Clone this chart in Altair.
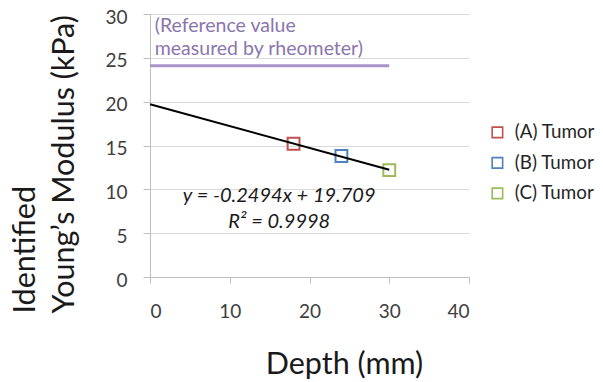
import altair as alt
import pandas as pd

# Data
tumors = ["(A) Tumor", "(B) Tumor", "(C) Tumor"]
depth = [18.0, 24.0, 30.0]
modulus = [15.2, 13.8, 12.2]
colors = ["#c0504d", "#4f81bd", "#9bbb59"]

slope = -0.2494
intercept = 19.709
trend_x = [0.0, 30.0]

ref_value = 24.1
ref_x = [0.0, 30.0]

eq_text = "y = -0.2494x + 19.709\nR² = 0.9998"
ref_text = "(Reference value\nmeasured by rheometer)"

FONT = "Lato"

pts = pd.DataFrame({"Depth": depth, "Modulus": modulus, "Tumor": tumors})
trend = pd.DataFrame({"Depth": trend_x, "Modulus": [slope * x + intercept for x in trend_x]})
ref = pd.DataFrame({"x": [ref_x[0]], "x2": [ref_x[1]], "y": [ref_value]})
eq = pd.DataFrame({"x": [16.2], "y": [8.6], "t": [eq_text]})
reft = pd.DataFrame({"x": [0.6], "y": [27.95], "t": [ref_text]})

xscale = alt.Scale(domain=[0, 40], nice=False)
yscale = alt.Scale(domain=[0, 30], nice=False)

xaxis = alt.Axis(values=[0, 10, 20, 30, 40], title="Depth (mm)", grid=False,
                 tickSize=6, labelPadding=19, titleX=194, titleY=96,
                 titleBaseline="alphabetic", titleAlign="center")
yaxis = alt.Axis(values=[0, 5, 10, 15, 20, 25, 30],
                 title=["Identified", "Young’s Modulus (kPa)"], grid=True,
                 tickSize=7, labelPadding=16, labelOffset=3, titleAngle=-90,
                 titleX=-125, titleY=299, titleAlign="left",
                 titleBaseline="middle", titleLineHeight=39, titleFontSize=30.5)

ref_rule = alt.Chart(ref).mark_rule(color="#a794c9", strokeWidth=3).encode(
    x=alt.X("x:Q", scale=xscale, axis=xaxis),
    x2="x2:Q",
    y=alt.Y("y:Q", scale=yscale, axis=yaxis),
)

ref_label = alt.Chart(reft).mark_text(
    align="left", baseline="alphabetic", lineBreak="\n", fontSize=19.5, font=FONT,
    color="#8a76ad", lineHeight=23,
).encode(x=alt.X("x:Q", scale=xscale), y=alt.Y("y:Q", scale=yscale), text="t:N")

trend_line = alt.Chart(trend).mark_line(color="#000000", strokeWidth=2).encode(
    x=alt.X("Depth:Q", scale=xscale), y=alt.Y("Modulus:Q", scale=yscale)
)

points = alt.Chart(pts).mark_point(shape="square", filled=False, size=140,
                                    strokeWidth=2, opacity=1).encode(
    x=alt.X("Depth:Q", scale=xscale),
    y=alt.Y("Modulus:Q", scale=yscale),
    color=alt.Color("Tumor:N", scale=alt.Scale(domain=tumors, range=colors),
                    legend=alt.Legend(title=None, orient="none", legendX=338,
                                      legendY=109, symbolType="square",
                                      symbolSize=110, symbolStrokeWidth=1.6,
                                      labelFontSize=18.8, labelFont=FONT,
                                      labelColor="#262626", rowPadding=10.5,
                                      labelOffset=8, padding=0)),
)

eq_label = alt.Chart(eq).mark_text(
    align="center", baseline="alphabetic", lineBreak="\n", fontSize=20,
    font=FONT, fontStyle="italic", color="#1a1a1a", lineHeight=26,
).encode(x=alt.X("x:Q", scale=xscale), y=alt.Y("y:Q", scale=yscale), text="t:N")

chart = alt.layer(ref_rule, points, trend_line, ref_label, eq_label).properties(
    width=319, height=263,
    autosize=alt.AutoSizeParams(type="none"),
    padding={"left": 142, "top": 6, "right": 126, "bottom": 104},
).configure_view(stroke=None).configure_axis(
    labelFont=FONT, titleFont=FONT, labelFontSize=19, titleFontSize=31,
    labelColor="#404040", titleColor="#1a1a1a", titleFontWeight="normal",
    gridColor="#d9d9d9", domainColor="#bfbfbf", tickColor="#bfbfbf",
).configure_axisX(titleFontSize=30.5)

chart.save("out.html", embed_options={"renderer": "svg", "actions": False})
